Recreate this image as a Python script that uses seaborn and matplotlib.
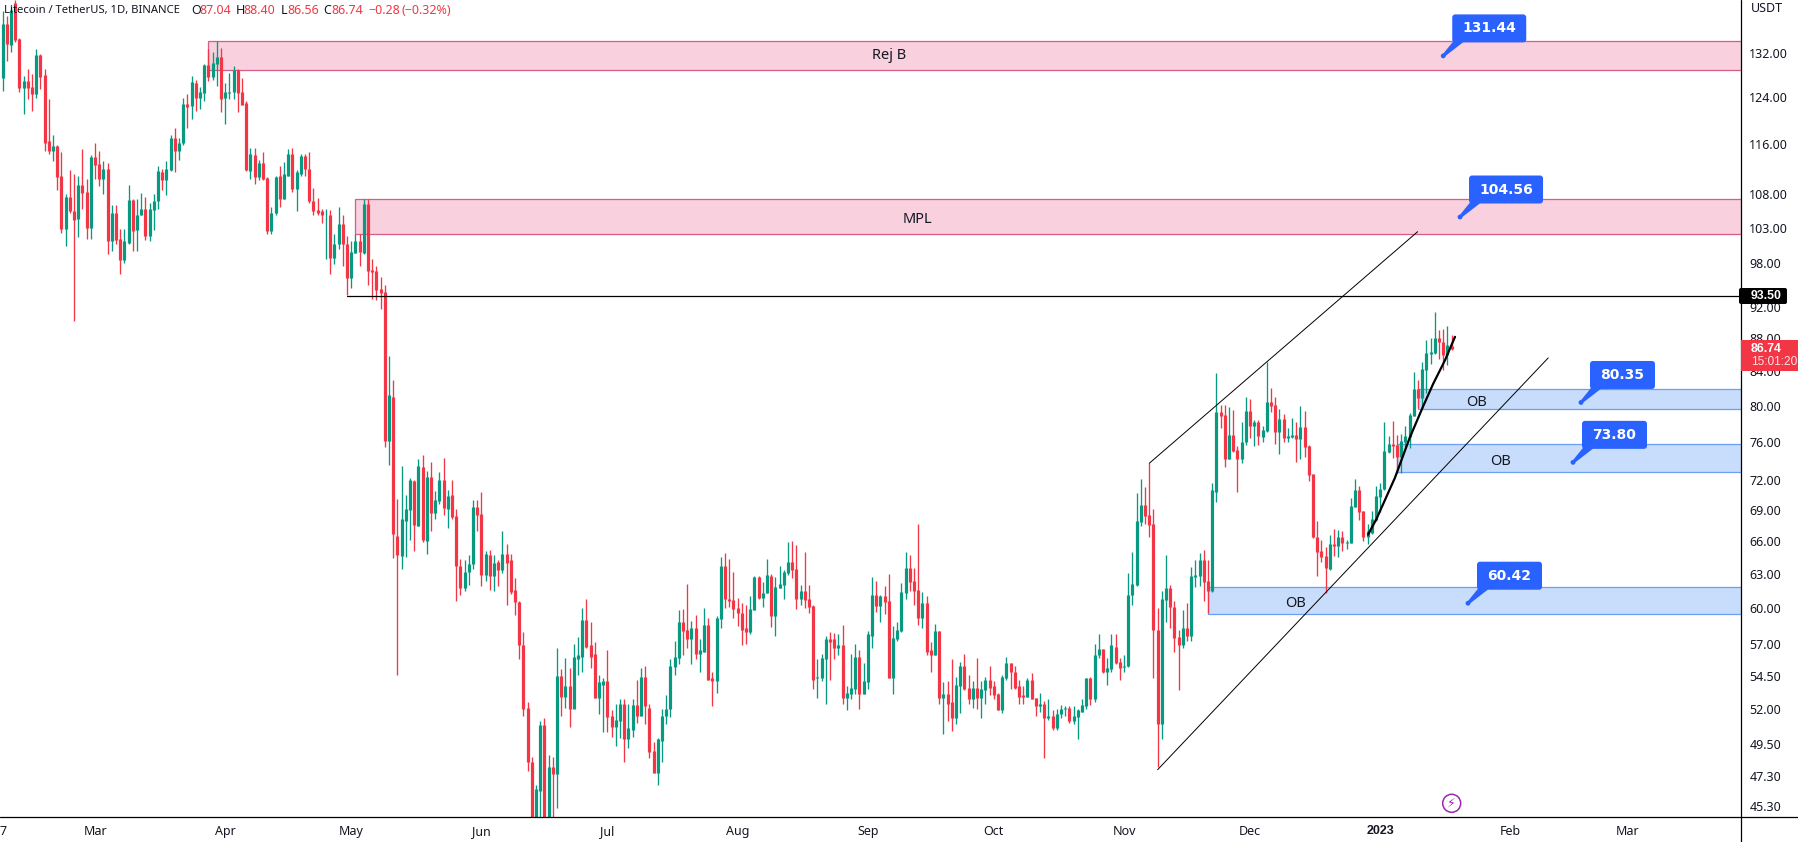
import matplotlib
matplotlib.use('Agg')
import pandas as pd
import matplotlib.pyplot as plt
import seaborn as sns
from matplotlib.lines import Line2D
from matplotlib.patches import Rectangle, FancyBboxPatch, Polygon, Circle
from matplotlib.ticker import NullLocator
from matplotlib.transforms import IdentityTransform

# daily LTC/USDT candles
opens = [127.4,137.5,133.5,141.6,134.6,125.6,126.9,125.8,124.5,131.6,
    127.9,116.4,114.9,115.6,110.8,102.8,107.6,105.5,104.3,109.4,
    108.3,103.0,113.8,112.7,110.3,111.9,101.1,105.2,101.4,98.4,
    100.8,107.1,102.7,104.8,105.8,101.8,105.6,107.0,111.4,110.2,
    111.7,116.9,114.9,116.1,122.8,122.5,126.5,123.9,124.7,129.8,
    127.6,129.9,131.3,123.9,124.7,124.9,128.9,124.9,122.9,111.6,
    114.2,110.6,112.9,110.5,102.5,105.1,110.8,107.3,110.9,114.4,
    108.8,111.2,114.0,112.0,107.0,105.6,105.5,104.8,104.9,98.6,
    100.7,103.5,100.6,95.9,99.3,101.0,99.3,106.5,97.0,96.8,
    94.4,94.0,76.1,81.0,66.5,64.6,67.9,69.0,71.9,67.4,
    73.3,66.0,72.3,68.7,69.9,72.0,69.1,70.5,68.4,63.7,
    61.7,63.2,63.9,69.3,68.6,62.9,64.7,62.8,64.1,63.3,
    64.8,64.2,61.6,60.5,56.9,52.1,48.2,43.5,46.3,50.8,
    43.5,47.9,47.4,54.5,52.9,53.7,52.0,55.8,56.0,59.0,
    56.9,56.2,52.8,53.8,54.1,51.5,50.7,51.1,52.4,49.8,
    50.5,52.3,51.5,54.4,52.1,49.0,47.5,49.7,51.5,52.0,
    55.2,55.9,58.8,58.2,57.4,58.3,56.2,56.4,58.6,54.3,
    54.1,59.1,63.7,60.8,60.7,60.0,59.6,58.3,58.0,59.8,
    62.7,60.9,61.3,62.8,59.3,61.7,62.0,63.1,64.1,63.4,
    60.8,61.5,60.8,60.2,54.3,54.3,55.8,57.4,57.4,56.7,
    56.9,52.8,53.1,53.5,56.0,53.1,54.0,57.7,61.1,60.2,
    61.0,60.6,54.3,57.4,58.1,61.3,63.5,62.4,61.6,59.2,
    60.4,56.5,56.1,58.1,52.8,53.1,52.5,51.3,53.7,55.3,
    53.6,52.7,53.6,52.8,53.4,54.2,53.7,53.1,51.9,54.3,
    55.5,54.8,53.7,53.0,52.9,54.2,52.8,52.2,52.4,51.3,
    51.5,50.6,51.6,52.0,52.1,51.1,51.4,51.8,52.2,54.3,
    52.7,56.1,56.6,54.8,55.0,56.8,55.6,55.2,55.3,61.1,
    62.0,67.8,69.5,68.5,67.6,58.2,50.9,60.7,61.7,60.1,
    57.6,56.9,58.3,57.7,62.7,62.8,64.2,62.4,61.5,70.8,
    79.3,78.9,74.2,76.7,75.1,74.1,76.0,79.4,77.7,78.2,
    76.5,77.2,80.4,80.1,77.1,78.5,76.4,76.5,76.7,76.3,
    77.6,75.5,72.6,66.4,65.1,64.6,63.4,65.7,65.5,66.4,
    65.8,65.8,69.3,71.0,68.9,66.4,66.8,68.0,70.3,71.1,
    74.9,75.7,75.6,74.4,76.0,76.5,78.8,81.9,80.9,84.2,
    86.1,86.2,88.0,87.6,86.0,87.04]
highs = [140.0,139.2,141.2,142.2,134.8,127.8,129.1,128.1,132.7,131.8,
    129.1,123.6,117.4,115.9,114.6,108.0,111.7,111.1,110.8,115.1,
    110.3,114.2,116.1,114.9,113.2,112.9,106.3,106.3,102.8,102.8,
    109.5,107.3,107.3,108.2,107.6,106.7,108.0,112.4,111.9,113.2,
    117.4,118.6,117.0,123.9,124.6,127.8,127.1,125.8,129.9,132.7,
    132.2,134.2,132.9,126.5,128.3,129.6,129.1,127.4,123.2,115.4,
    115.4,113.4,114.6,110.6,106.1,110.9,112.4,113.1,115.1,115.3,
    111.7,114.3,114.3,114.6,109.0,107.4,105.8,105.8,105.6,102.1,
    106.1,104.9,101.8,101.0,102.1,102.1,107.3,107.3,98.5,97.5,
    96.0,95.0,85.8,82.9,70.1,73.4,70.5,72.2,72.0,74.2,
    74.6,72.9,73.8,70.9,72.8,74.3,71.0,72.0,69.1,64.3,
    64.2,64.7,70.0,70.0,70.8,65.1,65.2,64.7,64.2,66.9,
    65.7,64.8,62.6,60.6,58.0,52.5,48.6,46.7,51.1,51.3,
    48.7,48.6,56.7,55.0,55.9,55.1,57.0,57.6,60.0,60.8,
    58.8,57.2,54.6,54.3,56.5,51.9,52.4,52.7,52.7,52.4,
    52.7,54.2,55.1,55.3,52.4,49.6,49.9,52.0,53.0,55.8,
    57.3,59.8,59.9,62.1,58.9,59.4,57.4,60.0,59.2,54.8,
    59.3,64.5,64.9,64.3,63.2,60.9,60.4,60.3,61.0,62.8,
    62.8,62.3,64.3,63.0,62.7,63.7,63.3,65.9,66.0,65.6,
    62.0,65.0,62.0,60.3,55.8,56.2,57.7,58.0,57.9,57.8,
    58.6,53.7,56.2,57.0,56.5,55.5,58.1,62.7,62.4,61.1,
    61.9,63.0,58.5,58.8,62.2,65.0,64.7,63.5,67.6,61.4,
    61.0,57.2,58.7,58.1,54.0,54.1,55.8,54.4,55.6,56.2,
    54.6,54.1,55.9,54.1,54.4,55.3,54.1,53.2,54.6,56.0,
    55.5,55.3,54.2,53.7,54.3,54.7,52.8,53.2,52.6,52.7,
    51.9,52.0,52.3,52.2,52.2,52.2,52.0,52.7,54.3,54.4,
    57.0,57.8,56.6,55.9,57.8,57.8,55.9,56.1,63.1,65.0,
    70.7,72.1,71.3,73.7,69.1,60.0,61.5,64.7,62.0,60.6,
    58.2,59.8,60.4,63.6,64.2,64.9,65.2,64.2,71.7,83.8,
    80.1,80.1,79.8,79.5,75.5,78.2,81.0,80.8,78.4,78.4,
    77.7,85.1,82.0,81.0,79.6,79.0,77.5,78.6,78.1,79.9,
    79.4,75.6,72.6,67.9,66.1,65.4,66.6,67.1,67.0,66.9,
    66.1,70.2,72.1,71.4,68.9,67.6,68.9,71.4,71.7,78.2,
    76.6,78.3,76.7,76.8,77.7,79.2,83.9,83.0,85.1,87.8,
    88.0,91.4,89.0,89.2,89.6,88.4]
lows = [125.0,130.5,132.2,134.0,124.9,121.0,123.6,121.6,123.9,125.4,
    114.9,114.3,113.2,108.6,102.2,100.4,105.2,90.2,101.7,105.8,
    101.4,101.4,110.3,109.2,108.0,99.2,99.6,100.7,96.4,97.9,
    100.7,99.6,99.7,104.8,101.2,101.0,102.7,105.8,108.6,107.9,
    111.6,111.4,113.3,115.9,118.6,120.1,121.6,121.9,123.3,126.9,
    127.1,125.9,121.3,119.3,123.6,123.6,121.3,122.6,111.6,110.3,
    109.6,110.2,110.2,102.0,102.0,104.9,106.1,107.3,110.9,108.3,
    105.5,110.8,110.8,106.7,104.9,104.8,103.7,98.5,96.4,97.8,
    99.9,97.6,93.6,94.5,99.3,97.5,99.2,95.0,93.1,92.9,
    91.7,75.4,73.5,64.4,54.6,63.4,64.5,66.1,65.1,67.4,
    65.9,64.8,66.9,68.1,69.6,68.5,67.2,68.1,60.6,61.1,
    61.5,62.0,63.4,66.9,61.9,62.4,61.6,61.5,61.9,63.1,
    60.3,61.2,59.4,55.8,51.5,47.6,43.0,43.0,44.0,43.0,
    43.0,44.0,45.2,51.5,52.1,50.7,52.1,54.6,54.8,56.7,
    55.1,52.8,51.6,50.3,50.3,50.0,49.3,49.9,48.2,49.2,
    50.0,51.0,51.5,50.9,48.5,47.5,46.7,48.2,50.9,51.4,
    54.6,55.4,56.1,56.7,55.4,55.8,54.8,56.4,54.2,52.2,
    53.2,58.3,60.0,60.1,59.2,58.5,56.9,57.0,57.8,59.8,
    60.8,60.1,61.3,58.4,57.7,61.7,60.8,62.9,62.6,59.9,
    60.3,60.0,59.6,53.5,52.8,54.1,52.4,54.2,55.8,56.1,
    52.4,51.9,52.7,53.1,52.0,53.1,53.5,56.7,59.7,58.8,
    59.5,54.3,53.1,57.3,58.0,60.8,61.5,60.3,58.6,58.3,
    56.1,54.8,56.1,52.4,50.2,51.1,50.4,50.9,51.7,53.4,
    52.4,52.1,52.0,51.3,52.4,53.0,52.7,51.9,51.7,54.2,
    53.5,53.5,52.4,52.4,52.9,52.7,51.5,51.8,48.5,51.2,
    50.5,50.5,51.3,51.5,51.0,50.9,49.8,51.8,52.0,52.3,
    52.5,55.9,54.7,53.8,54.8,55.4,54.2,54.8,55.2,60.3,
    61.9,67.4,67.6,66.4,54.3,47.9,49.8,58.8,58.3,56.4,
    53.4,56.7,57.3,57.3,61.8,61.9,60.6,59.6,61.4,69.8,
    77.5,73.3,74.1,74.9,70.8,73.7,75.6,76.4,75.5,75.6,
    76.0,77.1,79.3,75.7,74.7,76.0,76.0,76.4,73.8,74.2,
    74.4,71.9,66.3,62.8,64.1,61.3,63.3,64.6,64.5,65.1,
    65.3,65.8,69.3,68.0,66.0,65.7,66.7,67.9,68.8,71.0,
    74.8,74.3,72.7,72.7,75.4,75.3,78.8,79.7,79.6,81.4,
    84.9,86.1,85.5,84.1,84.7,86.56]
closes = [137.5,133.7,140.2,134.4,125.6,126.9,125.6,124.5,131.6,127.6,
    116.2,114.9,115.6,110.6,102.8,107.6,105.5,104.1,109.4,108.2,
    103.0,113.8,112.5,110.3,111.9,101.1,105.2,101.2,98.4,101.0,
    107.1,102.5,104.9,105.8,101.8,105.8,107.0,111.6,110.2,112.0,
    116.9,114.9,116.1,122.8,122.3,126.7,123.9,124.9,129.8,127.6,
    130.1,131.3,123.6,124.9,124.9,128.9,124.7,122.6,111.7,114.3,
    110.6,112.9,110.3,102.5,105.1,110.6,107.3,111.1,114.4,108.8,
    111.4,114.0,111.9,106.9,105.5,105.2,104.8,104.9,98.6,100.7,
    103.5,100.6,95.9,99.5,101.0,99.5,106.5,96.8,96.7,94.3,
    93.9,76.1,81.2,66.7,64.7,68.1,69.1,72.0,67.5,73.4,
    66.1,72.3,68.7,70.0,72.0,69.2,70.4,68.3,63.7,61.7,
    63.2,63.9,69.3,68.5,62.9,64.8,62.8,64.0,63.3,64.8,
    64.0,61.4,60.5,56.9,52.0,48.2,43.5,46.4,50.8,43.5,
    47.9,47.4,54.5,52.9,53.7,52.0,56.0,56.1,59.0,56.8,
    56.0,52.8,54.0,54.1,51.4,50.7,51.2,52.4,49.8,50.6,
    52.3,51.5,54.4,52.2,48.9,47.5,49.8,51.5,52.0,55.3,
    56.0,58.8,58.1,57.4,58.3,56.2,56.5,58.6,54.2,54.1,
    59.2,63.7,60.8,60.6,59.9,59.6,58.2,58.0,59.9,62.7,
    60.9,61.3,62.9,59.3,61.8,62.1,63.2,64.1,63.3,60.8,
    61.5,60.7,60.1,54.2,54.4,55.9,57.4,57.2,56.7,56.9,
    52.8,53.2,53.6,56.0,53.1,54.1,57.8,61.1,60.2,61.0,
    60.5,54.3,57.5,58.2,61.4,63.5,62.3,61.5,59.2,60.4,
    56.4,56.1,58.1,52.8,53.1,52.4,51.3,53.8,55.3,53.5,
    52.7,53.6,52.8,53.5,54.2,53.6,53.0,51.9,54.4,55.5,
    54.8,53.6,52.9,52.9,54.2,52.7,52.2,52.4,51.3,51.5,
    50.6,51.6,52.0,52.1,51.1,51.5,51.9,52.3,54.3,52.7,
    56.1,56.6,54.8,55.1,56.9,55.5,55.1,55.3,61.1,62.1,
    67.9,69.5,68.4,67.5,58.2,50.9,60.8,61.7,60.1,57.5,
    56.9,58.3,57.7,62.8,62.9,64.2,62.3,61.5,71.0,79.3,
    78.8,74.2,76.7,75.0,74.1,76.0,79.4,77.7,78.2,76.6,
    77.3,80.4,79.9,77.1,78.5,76.4,76.6,76.7,76.3,77.6,
    75.4,72.5,66.4,65.0,64.5,63.5,65.7,65.5,66.4,65.8,
    65.9,69.4,71.0,68.8,66.4,66.9,68.1,70.4,71.1,75.0,
    75.7,75.5,74.4,76.1,76.6,78.9,81.9,80.9,84.3,86.2,
    86.3,88.0,87.5,86.0,87.2,86.74]

# axis labels
price_ticks = [132, 124, 116, 108, 103, 98, 92, 88, 84, 80, 76, 72, 69, 66, 63, 60, 57, 54.5, 52, 49.5, 47.3, 45.3]
month_idx = [0, 22, 53, 83, 114, 144, 175, 206, 236, 267, 297, 328, 359, 387]
month_names = ['7', 'Mar', 'Apr', 'May', 'Jun', 'Jul', 'Aug', 'Sep', 'Oct', 'Nov', 'Dec', '2023', 'Feb', 'Mar']

# drawings on the chart: start, top, bottom, label, label x, label price
pink_zones = [(49, 134.2, 128.9, 'Rej B', 211, 132.0), (84, 107.3, 102.1, 'MPL', 217.7, 104.6)]
blue_zones = [(337, 81.9, 79.6, 'OB', 351, 80.7), (332, 75.7, 72.8, 'OB', 356.7, 74.2), (287, 61.8, 59.5, 'OB', 307.9, 60.64)]
level_price = 93.50
level_start = 82
channel_low_i = [275, 368]
channel_low_p = [47.7, 85.6]
channel_up_i = [273, 336.9]
channel_up_p = [73.7, 102.4]
curve_i = [325.1, 327.1, 331.5, 335, 338.2, 340.6, 343.4, 345.8]
curve_p = [66.6, 68.1, 72.2, 76.4, 79.9, 82.5, 85.3, 88.2]
callout_i = [343, 347, 375.8, 373.9, 348.9]
callout_p = [131.44, 104.56, 80.35, 73.80, 60.42]

GREEN = '#089981'
RED = '#f23645'
INK = '#131722'
BLUE = '#2962ff'
W, H = 1799, 842

sns.set_theme(style='white')
plt.rcParams['font.family'] = ['Noto Sans', 'DejaVu Sans']

candles = pd.DataFrame({'i': range(len(opens)), 'o': opens, 'h': highs, 'l': lows, 'c': closes})
candles['dir'] = ['up' if c >= o else 'down' for o, c in zip(opens, closes)]
wicks = candles.melt(id_vars=['i', 'dir'], value_vars=['h', 'l'], value_name='price')
bodies = candles.melt(id_vars=['i', 'dir'], value_vars=['o', 'c'], value_name='price')
pal = {'up': GREEN, 'down': RED}

fig = plt.figure(figsize=(W / 100, H / 100), dpi=100)
ax = fig.add_axes([0, 25 / H, 1741 / W, 817 / H])
ax.set_yscale('log')


def add_zone(zone, fill, edge):
    start, top, bottom, label, lx, ly = zone
    ax.add_patch(Rectangle((start, bottom), 500, top - bottom, fc=fill, ec=edge, lw=0.9, zorder=1))
    ax.annotate(label, (lx, ly), xytext=(0, -2), textcoords='offset points',
                ha='center', va='center', color=INK, fontsize=10.5, zorder=6)


for zone in pink_zones:
    add_zone(zone, '#f8d0de', '#d85c8a')
for zone in blue_zones:
    add_zone(zone, '#c8dcfb', '#6a9ff5')

sns.lineplot(data=wicks, x='i', y='price', hue='dir', palette=pal, units='i', estimator=None,
             legend=False, linewidth=0.95, solid_capstyle='butt', zorder=3, ax=ax)
sns.lineplot(data=bodies, x='i', y='price', hue='dir', palette=pal, units='i', estimator=None,
             legend=False, linewidth=2.3, solid_capstyle='butt', zorder=4, ax=ax)

ax.plot([level_start, 500], [level_price, level_price], color='black', lw=0.9, zorder=5)
ax.plot(channel_low_i, channel_low_p, color='black', lw=0.7, zorder=5)
ax.plot(channel_up_i, channel_up_p, color='black', lw=0.7, zorder=5)
ax.plot(curve_i, curve_p, color='black', lw=1.6, zorder=5, solid_capstyle='round')

ax.set_xlim(-0.643, 413.9)
ax.set_ylim(44.6, 142.3)
ax.set_xlabel('')
ax.set_ylabel('')
for s in ax.spines.values():
    s.set_visible(False)
ax.yaxis.tick_right()
ax.set_yticks(price_ticks)
ax.set_yticklabels(['%.2f' % p for p in price_ticks])
ax.yaxis.set_minor_locator(NullLocator())
ax.set_xticks(month_idx)
ax.set_xticklabels(month_names)
ax.tick_params(axis='y', length=0, pad=6, labelsize=9, labelcolor=INK)
ax.tick_params(axis='x', length=0, pad=6, labelsize=9, labelcolor=INK)
for lab in ax.get_xticklabels():
    if lab.get_text() == '2023':
        lab.set_fontweight('bold')
        lab.set_family('Liberation Sans')

ident = IdentityTransform()


def px(x, y):
    return x, H - y


# frame lines of the price and time scales
fig.add_artist(Line2D([0, W], [25, 25], color='black', lw=0.9, transform=ident))
fig.add_artist(Line2D([1741, 1741], [0, H], color='black', lw=0.9, transform=ident))


def ptext(x, y, s, **kw):
    fig.text(*px(x, y), s, transform=ident, **kw)


# callouts sit next to the level they mark
for i, p in zip(callout_i, callout_p):
    label = '%.2f' % p
    dx, dy = ax.transData.transform((i, p))
    bw = 74 if len(label) > 5 else 65
    left, bottom = dx + 9, dy + 13.5
    fig.add_artist(Polygon([(left + 1, bottom + 1), (left + 12, bottom + 1), (dx + 1, dy - 1), (dx - 1, dy + 1)],
                           fc=BLUE, ec='none', transform=ident, zorder=7))
    fig.add_artist(Circle((dx, dy), 2.4, fc=BLUE, ec='none', transform=ident, zorder=7))
    fig.add_artist(FancyBboxPatch((left + 3, bottom + 3), bw - 6, 22, boxstyle='round,pad=3,rounding_size=3',
                                  fc=BLUE, ec='none', transform=ident, zorder=7))
    fig.text(left + bw / 2, bottom + 14, label, transform=ident, color='white', fontsize=10,
             family='DejaVu Sans', fontweight='bold', ha='center', va='center', zorder=8)

# price scale tags
ptext(1751, 8, 'USDT', color=INK, fontsize=9, va='center')
fig.add_artist(FancyBboxPatch((1741, H - 304 + 2), 44, 12, boxstyle='round,pad=2,rounding_size=2',
                              fc='black', ec='none', transform=ident, zorder=7))
ptext(1751, 296, '93.50', color='white', fontsize=8.8, family='Liberation Sans', fontweight='bold', va='center', zorder=8)
fig.add_artist(Rectangle((1741, H - 371), 58, 31, fc=RED, ec='none', transform=ident, zorder=7))
ptext(1751, 349, '86.74', color='white', fontsize=8.8, family='Liberation Sans', fontweight='bold', va='center', zorder=8)
ptext(1751, 362, '15:01:20', color='#ffdfe3', fontsize=8.6, family='Liberation Sans', va='center', zorder=8)

# legend line at top left
title_parts = [(4, 'Litecoin / TetherUS, 1D, BINANCE', INK, 8.1), (191, 'O', INK, 9), (199, '87.04', RED, 9),
               (236, 'H', INK, 9), (243, '88.40', RED, 9), (281, 'L', INK, 9), (287, '86.56', RED, 9),
               (323, 'C', INK, 9), (331, '86.74', RED, 9), (368, '\u22120.28', RED, 9), (402, '(\u22120.32%)', RED, 9)]
for x, s, col, size in title_parts:
    ptext(x, 10, s, color=col, fontsize=size, va='center', zorder=8)

# lightning badge under the last candles
fig.add_artist(Circle(px(1451.7, 803.3), 9, fc='white', ec='#9c27b0', lw=1.1, transform=ident, zorder=7))
ptext(1451.7, 803.3, '\u26a1', color='#9c27b0', fontsize=9, family='DejaVu Sans', ha='center', va='center', zorder=8)

fig.savefig('out.png', dpi=100, facecolor='white')
